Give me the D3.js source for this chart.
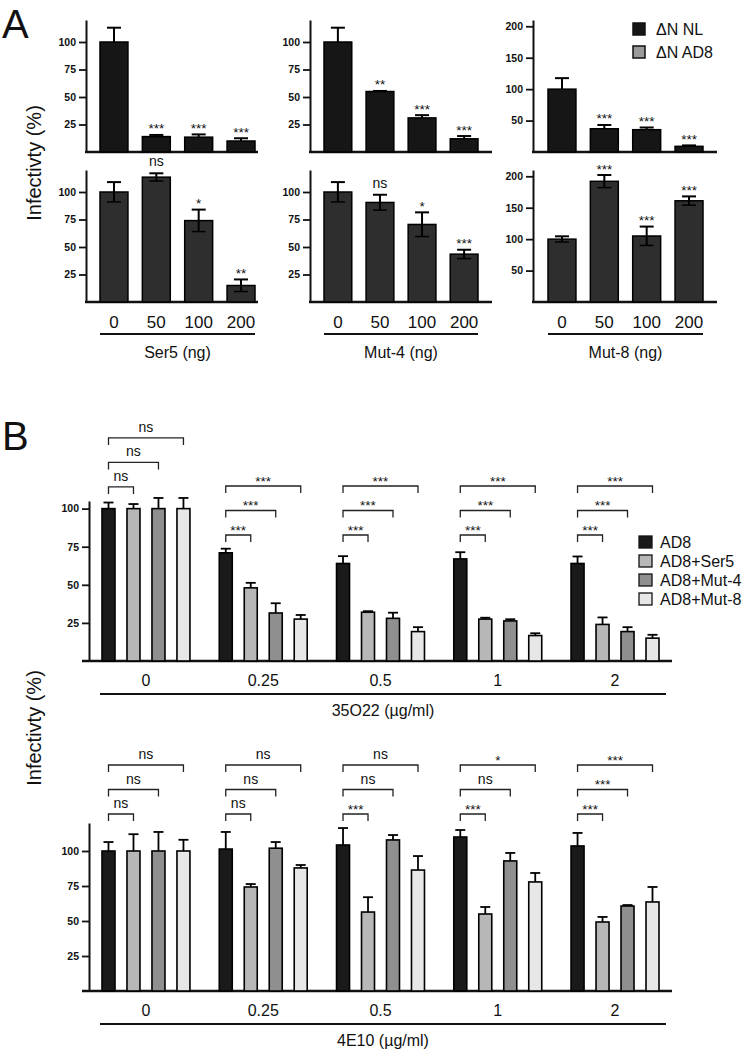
<!DOCTYPE html>
<html><head><meta charset="utf-8">
<script src="https://cdn.jsdelivr.net/npm/d3@7"></script>
<style>body{margin:0;background:#fff} svg{display:block} text{font-family:"Liberation Sans",Arial,Helvetica,sans-serif;fill:#111}</style>
</head><body><svg id="c" width="743" height="1050"></svg>
<script>
// ================= DATA =================
// Panel A
const doseA = ["0", "50", "100", "200"];
const factorsA = ["Ser5 (ng)", "Mut-4 (ng)", "Mut-8 (ng)"];
const legendA = ["ΔN NL", "ΔN AD8"];
const ticksAlow = [25, 50, 75, 100];
const ticksAhigh = [50, 100, 150, 200];

const ser5NL = [100, 14, 13.5, 10];
const ser5NLErr = [13, 1.5, 2.5, 2.5];
const ser5NLSig = ["", "***", "***", "***"];
const ser5AD8 = [100, 113.5, 74, 15];
const ser5AD8Err = [9, 3.5, 10, 5.5];
const ser5AD8Sig = ["", "ns", "*", "**"];

const mut4NL = [100, 55, 31, 12];
const mut4NLErr = [13, 0.5, 2.5, 2.5];
const mut4NLSig = ["", "**", "***", "***"];
const mut4AD8 = [100, 90.5, 70.5, 43.5];
const mut4AD8Err = [9, 7, 11, 4];
const mut4AD8Sig = ["", "ns", "*", "***"];

const mut8NL = [100, 37, 35.5, 9];
const mut8NLErr = [17.5, 6, 3.5, 1.5];
const mut8NLSig = ["", "***", "***", "***"];
const mut8AD8 = [100, 192, 105, 161];
const mut8AD8Err = [4.5, 10, 15, 7];
const mut8AD8Sig = ["", "***", "***", "***"];

// Panel B
const doseB = ["0", "0.25", "0.5", "1", "2"];
const seriesB = ["AD8", "AD8+Ser5", "AD8+Mut-4", "AD8+Mut-8"];
const ticksB = [25, 50, 75, 100];

const o22AD8 = [100, 71, 64, 67, 64];
const o22AD8Err = [4, 2.7, 4.8, 4.4, 4.6];
const o22Ser5 = [100, 48, 32, 27.5, 24];
const o22Ser5Err = [3, 3.3, 0.7, 0.9, 4.6];
const o22Mut4 = [100, 31.5, 28, 26.3, 19.3];
const o22Mut4Err = [7, 6.4, 3.7, 1.1, 2.9];
const o22Mut8 = [100, 27.5, 19.3, 16.7, 15];
const o22Mut8Err = [7, 2.7, 2.9, 1.5, 2.2];
const o22SigSer5 = ["ns", "***", "***", "***", "***"];
const o22SigMut4 = ["ns", "***", "***", "***", "***"];
const o22SigMut8 = ["ns", "***", "***", "***", "***"];

const e10AD8 = [100, 101.4, 104.3, 110, 103.6];
const e10AD8Err = [6.4, 12.2, 12.1, 5, 9.3];
const e10Ser5 = [100, 74.3, 56.4, 55, 49.3];
const e10Ser5Err = [12, 2.1, 10.6, 5, 3.6];
const e10Mut4 = [100, 102, 107.9, 92.9, 60.7];
const e10Mut4Err = [13.6, 4.4, 3.5, 5.7, 0.7];
const e10Mut8 = [100, 87.9, 86.4, 77.9, 63.6];
const e10Mut8Err = [8, 2.1, 10, 6.4, 10.7];
const e10SigSer5 = ["ns", "ns", "***", "***", "***"];
const e10SigMut4 = ["ns", "ns", "ns", "ns", "***"];
const e10SigMut8 = ["ns", "ns", "ns", "*", "***"];

// ================= DRAWING =================
const svg = d3.select("#c");
const FONT = '"Liberation Sans",Arial,Helvetica,sans-serif';

function styleAxis(g, fs) {
  g.selectAll("text").attr("font-size", fs).attr("font-family", FONT).attr("fill", "#111")
    .attr("font-weight", "bold");
  g.selectAll("line").attr("stroke", "#111").attr("stroke-width", 1.8);
  g.select(".domain").attr("stroke", "#111").attr("stroke-width", 2);
}

// yRef: reference line; ns sits a bit higher than stars (stars are tall glyphs)
function sigText(g, x, yRef, s) {
  const isNs = s === "ns";
  g.append("text").attr("x", x).attr("y", isNs ? yRef - 4 : yRef + 1.5)
    .attr("text-anchor", "middle").attr("font-size", isNs ? 14 : 13.5).text(s);
}

// ---------- Panel A ----------
const colsA = [
  {name: factorsA[0], axisX: 86, band: [100, 255], end: 258, topMax: 120, botMax: 120, ticks: ticksAlow,
   nl: ser5NL, nlE: ser5NLErr, nlS: ser5NLSig, ad: ser5AD8, adE: ser5AD8Err, adS: ser5AD8Sig},
  {name: factorsA[1], axisX: 310, band: [324, 478], end: 492, topMax: 120, botMax: 120, ticks: ticksAlow,
   nl: mut4NL, nlE: mut4NLErr, nlS: mut4NLSig, ad: mut4AD8, adE: mut4AD8Err, adS: mut4AD8Sig},
  {name: factorsA[2], axisX: 533, band: [548, 703], end: 717, topMax: 210, botMax: 210, ticks: ticksAhigh,
   nl: mut8NL, nlE: mut8NLErr, nlS: mut8NLSig, ad: mut8AD8, adE: mut8AD8Err, adS: mut8AD8Sig}
];
const rowsA = [
  {base: 152, fill: "#161616", key: "nl", both: false},
  {base: 302, fill: "#2e2e2e", key: "ad", both: true}
];

colsA.forEach(c => {
  const x = d3.scaleBand().domain(doseA).range(c.band).paddingInner(0.34).paddingOuter(0);
  const bw = x.bandwidth();
  rowsA.forEach(r => {
    const max = r.key === "nl" ? c.topMax : c.botMax;
    const y = d3.scaleLinear().domain([0, max]).range([r.base, r.base - 132]);
    const vals = c[r.key], errs = c[r.key + "E"], sigs = c[r.key + "S"];
    const g = svg.append("g");
    const ax = g.append("g").attr("transform", `translate(${c.axisX},0)`)
      .call(d3.axisLeft(y).tickValues(c.ticks).tickSize(7).tickPadding(3).tickSizeOuter(0));
    styleAxis(ax, 10.5);
    g.append("line").attr("x1", c.axisX - 1).attr("x2", c.end).attr("y1", y(0)).attr("y2", y(0))
      .attr("stroke", "#111").attr("stroke-width", 2.5);
    doseA.forEach((d, i) => {
      const v = vals[i], e = errs[i], xc = x(d) + bw / 2;
      g.append("rect").attr("x", x(d)).attr("y", y(v)).attr("width", bw).attr("height", y(0) - y(v))
        .attr("fill", r.fill).attr("stroke", "#000").attr("stroke-width", 1.5);
      const lo = r.both ? v - e : v;
      g.append("line").attr("x1", xc).attr("x2", xc).attr("y1", y(lo)).attr("y2", y(v + e))
        .attr("stroke", "#000").attr("stroke-width", 2);
      g.append("line").attr("x1", xc - 7).attr("x2", xc + 7).attr("y1", y(v + e)).attr("y2", y(v + e))
        .attr("stroke", "#000").attr("stroke-width", 2);
      if (r.both) g.append("line").attr("x1", xc - 7).attr("x2", xc + 7).attr("y1", y(lo)).attr("y2", y(lo))
        .attr("stroke", "#000").attr("stroke-width", 1.5);
      if (sigs[i]) sigText(g, xc, y(v + e) - 3, sigs[i]);
    });
  });
  doseA.forEach(d => {
    svg.append("text").attr("x", x(d) + bw / 2).attr("y", 328).attr("text-anchor", "middle")
      .attr("font-size", 17).text(d);
  });
  svg.append("line").attr("x1", c.band[0]).attr("x2", c.band[1]).attr("y1", 334).attr("y2", 334)
    .attr("stroke", "#111").attr("stroke-width", 2);
  svg.append("text").attr("x", (c.band[0] + c.band[1]) / 2).attr("y", 358).attr("text-anchor", "middle")
    .attr("font-size", 16).text(c.name);
});

// Legend A
const legColA = ["#161616", "#9a9a9a"];
legendA.forEach((t, i) => {
  svg.append("rect").attr("x", 633).attr("y", 23 + i * 23).attr("width", 12).attr("height", 12)
    .attr("fill", legColA[i]).attr("stroke", "#111").attr("stroke-width", 1.5);
  svg.append("text").attr("x", 656).attr("y", 35 + i * 23).attr("font-size", 16).text(t);
});

svg.append("text").attr("x", 2).attr("y", 38).attr("font-size", 40).text("A");
svg.append("text").attr("transform", "translate(41,163) rotate(-90)").attr("text-anchor", "middle")
  .attr("font-size", 20).text("Infectivty (%)");

// ---------- Panel B ----------
const colorsB = ["#1a1a1a", "#b7b7b7", "#8f8f8f", "#e7e7e7"];
const xB = d3.scaleBand().domain(doseB).range([102, 659]).paddingInner(0.25).paddingOuter(0);
const xS = d3.scaleBand().domain(seriesB).range([0, xB.bandwidth()]).paddingInner(0.48).paddingOuter(0);

const chartsB = [
  {base: 661, top: 501, max: 105, cap: 535, xlabY: 686, lineY: 694, titleY: 716, title: "35O22 (µg/ml)",
   vals: [o22AD8, o22Ser5, o22Mut4, o22Mut8], errs: [o22AD8Err, o22Ser5Err, o22Mut4Err, o22Mut8Err],
   sigs: [o22SigSer5, o22SigMut4, o22SigMut8]},
  {base: 991, top: 823, max: 120, cap: 814, xlabY: 1016, lineY: 1024, titleY: 1046, title: "4E10 (µg/ml)",
   vals: [e10AD8, e10Ser5, e10Mut4, e10Mut8], errs: [e10AD8Err, e10Ser5Err, e10Mut4Err, e10Mut8Err],
   sigs: [e10SigSer5, e10SigMut4, e10SigMut8]}
];
const axisXB = 89;

chartsB.forEach(ch => {
  const y = d3.scaleLinear().domain([0, ch.max]).range([ch.base, ch.top]);
  const g = svg.append("g");
  const ax = g.append("g").attr("transform", `translate(${axisXB},0)`)
    .call(d3.axisLeft(y).tickValues(ticksB).tickSize(7).tickPadding(3).tickSizeOuter(0));
  styleAxis(ax, 10.5);
  g.append("line").attr("x1", axisXB - 7).attr("x2", 672).attr("y1", y(0)).attr("y2", y(0))
    .attr("stroke", "#111").attr("stroke-width", 2.5);
  const bw = xS.bandwidth();
  doseB.forEach((d, gi) => {
    let maxTop = 0;
    seriesB.forEach((s, si) => {
      const v = ch.vals[si][gi], e = ch.errs[si][gi];
      const x0 = xB(d) + xS(s), xc = x0 + bw / 2;
      maxTop = Math.max(maxTop, v + e);
      g.append("rect").attr("x", x0).attr("y", y(v)).attr("width", bw).attr("height", y(0) - y(v))
        .attr("fill", colorsB[si]).attr("stroke", "#000").attr("stroke-width", 1.6);
      g.append("line").attr("x1", xc).attr("x2", xc).attr("y1", y(v)).attr("y2", y(v + e))
        .attr("stroke", "#000").attr("stroke-width", 1.8);
      g.append("line").attr("x1", xc - 5).attr("x2", xc + 5).attr("y1", y(v + e)).attr("y2", y(v + e))
        .attr("stroke", "#000").attr("stroke-width", 1.8);
    });
    const lvl0 = Math.min(y(maxTop) - 11, ch.cap);
    const xa = xB(d) + xS(seriesB[0]) + bw / 2;
    for (let k = 0; k < 3; k++) {
      const xbE = xB(d) + xS(seriesB[k + 1]) + bw / 2;
      const ly = lvl0 - k * 24.5;
      g.append("path").attr("d", `M${xa},${ly + 7}V${ly}H${xbE}V${ly + 7}`)
        .attr("fill", "none").attr("stroke", "#222").attr("stroke-width", 1.3);
      sigText(g, (xa + xbE) / 2, ly - 2, ch.sigs[k][gi]);
    }
    svg.append("text").attr("x", xB(d) + xB.bandwidth() / 2).attr("y", ch.xlabY).attr("text-anchor", "middle")
      .attr("font-size", 16).text(d);
  });
  svg.append("line").attr("x1", 100).attr("x2", 666).attr("y1", ch.lineY).attr("y2", ch.lineY)
    .attr("stroke", "#111").attr("stroke-width", 2);
  svg.append("text").attr("x", 383).attr("y", ch.titleY).attr("text-anchor", "middle")
    .attr("font-size", 16).text(ch.title);
});

// Legend B
seriesB.forEach((s, i) => {
  svg.append("rect").attr("x", 639).attr("y", 536 + i * 19).attr("width", 13).attr("height", 12)
    .attr("fill", colorsB[i]).attr("stroke", "#111").attr("stroke-width", 1.3);
  svg.append("text").attr("x", 660).attr("y", 548 + i * 19).attr("font-size", 16).text(s);
});

svg.append("text").attr("x", 2).attr("y", 450).attr("font-size", 40).text("B");
svg.append("text").attr("transform", "translate(41,728) rotate(-90)").attr("text-anchor", "middle")
  .attr("font-size", 20).text("Infectivty (%)");
</script></body></html>
